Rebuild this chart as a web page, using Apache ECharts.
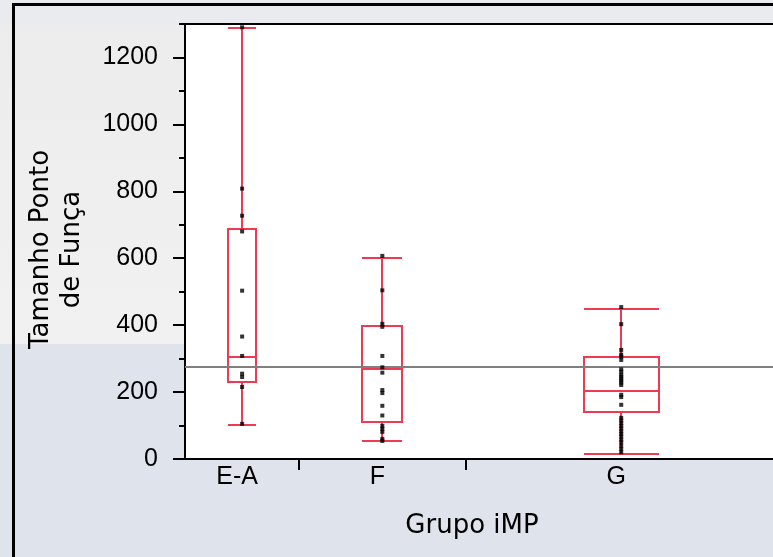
<!DOCTYPE html>
<html>
<head>
<meta charset="utf-8">
<script src="https://cdn.jsdelivr.net/npm/echarts@6/dist/echarts.min.js"></script>
<style>
html,body{margin:0;padding:0;width:773px;height:557px;overflow:hidden;background:#dfe3eb;}
#wrap{position:relative;width:773px;height:557px;overflow:hidden;}
.bg{position:absolute;}
#c{position:absolute;left:0;top:0;width:780px;height:557px;}
</style>
</head>
<body>
<div id="wrap">
  <div class="bg" style="left:0;top:0;width:773px;height:557px;background:#dfe3eb;"></div>
  <div class="bg" style="left:0;top:0;width:185px;height:344px;background:linear-gradient(to bottom,#ececec,#f1f1f1);"></div>
  <div class="bg" style="left:0;top:0;width:773px;height:24px;background:#e9ebef;"></div>
  <div class="bg" style="left:12px;top:3px;width:800px;height:600px;border:3px solid #000;box-sizing:border-box;"></div>
  <div id="c"></div>
</div>
<script>
// ---- data ----
const categories = ['E-A', 'F', 'G'];
const groupCounts = [11, 16, 30];           // group widths are proportional to n
const boxLow    = [102, 53, 15];
const boxQ1     = [231, 110, 139];
const boxMedian = [305, 268, 203];
const boxQ3     = [687, 397, 304];
const boxHigh   = [1288, 601, 449];
const pointsEA = [1290, 808, 727, 680, 503, 366, 308, 255, 245, 215, 105];
const pointsF  = [607, 504, 404, 395, 308, 274, 258, 206, 197, 159, 130, 99, 90, 81, 60, 54];
const pointsG  = [454, 403, 326, 312, 306, 296, 268, 261, 252, 246, 240, 234, 228, 221, 192,
                  185, 162, 123, 115, 107, 99, 91, 83, 75, 67, 58, 50, 40, 30, 20];
const referenceLine = 276;
const yTicks = [0, 200, 400, 600, 800, 1000, 1200];
const yMax = 1300;
const xTitle = 'Grupo iMP';
const yTitle = 'Tamanho Ponto\nde Funça';

// ---- derived group geometry (axis units) ----
const groupStarts = [], groupEnds = [], groupCenters = [];
let acc = 0;
groupCounts.forEach(n => { groupStarts.push(acc); groupCenters.push(acc + n / 2); acc += n; groupEnds.push(acc); });
const xMax = acc;
const boundaries = groupEnds.slice(0, -1);
const BOX_FRACTION = 0.24;
const RED = '#EE3A52';

const boxData = categories.map((c, i) => [groupCenters[i], boxLow[i], boxQ1[i], boxMedian[i], boxQ3[i], boxHigh[i], groupCounts[i] * BOX_FRACTION / 2]);
const pointGroups = [pointsEA, pointsF, pointsG];
const scatterData = [];
pointGroups.forEach((arr, i) => arr.forEach(v => scatterData.push([groupCenters[i], v])));

function renderBox(params, api) {
  const c = api.value(0), lo = api.value(1), q1 = api.value(2), md = api.value(3), q3 = api.value(4), hi = api.value(5), hw = api.value(6);
  const x0 = Math.round(api.coord([c - hw, 0])[0]);
  const x1 = Math.round(api.coord([c + hw, 0])[0]);
  const xc = Math.round(api.coord([c, 0])[0]);
  const y = v => Math.round(api.coord([c, v])[1]);
  const yq3 = y(q3), yq1 = y(q1), ymd = y(md), ylo = y(lo), yhi = y(hi);
  const st = { stroke: RED, lineWidth: 2, fill: 'none' };
  return {
    type: 'group',
    children: [
      { type: 'rect', shape: { x: x0, y: yq3, width: x1 - x0, height: yq1 - yq3 }, style: st },
      { type: 'line', shape: { x1: x0, y1: ymd, x2: x1, y2: ymd }, style: st },
      { type: 'line', shape: { x1: xc, y1: yq3, x2: xc, y2: yhi }, style: st },
      { type: 'line', shape: { x1: xc, y1: yq1, x2: xc, y2: ylo }, style: st },
      { type: 'line', shape: { x1: x0, y1: yhi, x2: x1, y2: yhi }, style: st },
      { type: 'line', shape: { x1: x0, y1: ylo, x2: x1, y2: ylo }, style: st }
    ]
  };
}

const chart = echarts.init(document.getElementById('c'), null, { renderer: 'canvas' });
chart.setOption({
  animation: false,
  backgroundColor: 'transparent',
  grid: {
    // the plot frame runs a few pixels past the visible right edge
    left: 185, top: 24, right: 3, bottom: 98,
    show: true, backgroundColor: '#ffffff', borderColor: '#000', borderWidth: 2
  },
  xAxis: {
    type: 'value', min: 0, max: xMax,
    name: xTitle, nameLocation: 'middle', nameGap: 54,
    nameTextStyle: { fontFamily: 'DejaVu Sans', fontSize: 26, color: '#000', padding: [0, 18, 0, 0] },
    axisLine: { show: true, lineStyle: { color: '#000', width: 2 } },
    axisTick: { show: true, customValues: boundaries, length: 11, inside: false, lineStyle: { color: '#000', width: 2 } },
    axisLabel: {
      show: true, customValues: groupCenters, margin: 6,
      fontFamily: 'Liberation Sans, Arial, sans-serif', fontSize: 25, color: '#000',
      padding: [0, 10, 0, 0],
      formatter: v => { const k = groupCenters.findIndex(c => Math.abs(c - v) < 1e-6); return k >= 0 ? categories[k] : ''; }
    },
    splitLine: { show: false }
  },
  yAxis: [
    {
      type: 'value', min: 0, max: yMax, position: 'left',
      name: yTitle, nameLocation: 'middle', nameGap: 97,
      nameTextStyle: { fontFamily: 'DejaVu Sans', fontSize: 26, lineHeight: 31, color: '#000', align: 'center', padding: [0, 16, 0, 0] },
      axisLine: { show: true, lineStyle: { color: '#000', width: 2 } },
      axisTick: { show: true, customValues: yTicks, length: 12, lineStyle: { color: '#000', width: 2 } },
      axisLabel: { show: true, customValues: yTicks, margin: 27, fontFamily: 'Liberation Sans, Arial, sans-serif', fontSize: 25, color: '#000', formatter: v => String(v) },
      splitLine: { show: false }
    },
    {
      type: 'value', min: 0, max: yMax, interval: 100, position: 'left', offset: 0,
      axisLine: { show: false },
      axisTick: { show: true, length: 6, lineStyle: { color: '#000', width: 2 } },
      axisLabel: { show: false },
      splitLine: { show: false }
    }
  ],
  series: [
    {
      type: 'custom', name: 'box', renderItem: renderBox, data: boxData, z: 3,
      encode: { x: 0, y: [1, 2, 3, 4, 5] },
      markLine: {
        silent: true, symbol: ['none', 'none'], label: { show: false },
        lineStyle: { color: '#808080', width: 2, type: 'solid' },
        data: [{ yAxis: referenceLine }]
      }
    },
    {
      type: 'scatter', name: 'points', data: scatterData, z: 5,
      symbol: 'rect', symbolSize: 4,
      itemStyle: { color: '#000' }
    }
  ]
});
</script>
</body>
</html>
